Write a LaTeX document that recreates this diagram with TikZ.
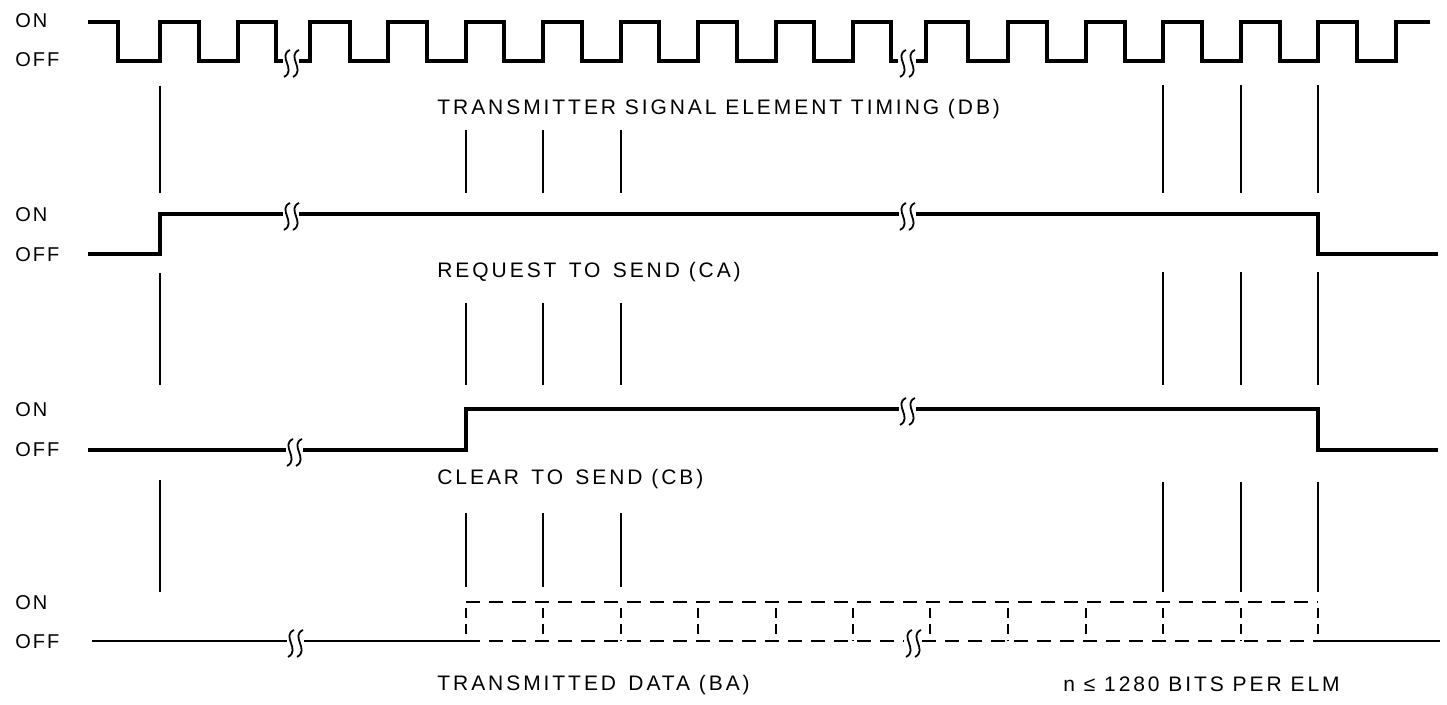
\documentclass[tikz,border=0pt]{standalone}
\usepackage{fontspec}
\setmainfont{Liberation Sans}[LetterSpace=14]
\usepackage{tikz}

% break mark on a signal line: two small vertical squiggles
\newcommand\wavebrk[2]{%
  \foreach \dx in {-4,5}
    \draw[line width=0.9pt] ({#1+\dx+3},{#2-11}) .. controls ({#1+\dx-10},{#2-5}) and ({#1+\dx+10},{#2+9}) .. ({#1+\dx-3},{#2+16});
}

\begin{document}
\begin{tikzpicture}[x=0.5pt,y=-0.5pt,
    sig/.style={line width=1.6pt},
    thinsig/.style={line width=0.9pt},
    tickln/.style={line width=0.8pt},
    datadash/.style={line width=0.9pt,dash pattern=on 7pt off 4.5pt},
    sepdash/.style={line width=0.9pt,dash pattern=on 5pt off 3pt,dash phase=5pt},
    lvl/.style={font=\fontsize{10}{11}\selectfont\addfontfeatures{LetterSpace=10},inner sep=0pt,anchor=base west},
    captxt/.style={font=\fontsize{10.5}{12}\selectfont,inner sep=0pt,anchor=base west}]
  \useasboundingbox (0,0) rectangle (1447,705);

  % ON / OFF levels
  \foreach \n/\yon/\yoff in {clk/28/67, rts/222/262, cts/417/457, dat/610/648} {
    \node[lvl] (\n-on)  at (15,\yon)  {ON};
    \node[lvl] (\n-off) at (15,\yoff) {OFF};
  }

  % transmitter signal element timing
  \draw[sig] (88,22) \foreach \f/\r in {118/160,199/238} { -| (\f,61) -| (\r,22) } -| (276,61) -- (283,61);
  \draw[sig] (299,61) \foreach \r/\f in {310/350,388/427,466/504,543/582,621/659,698/737,776/814,853/891} { -| (\r,22) -| (\f,61) } -- (898,61);
  \draw[sig] (916,61) \foreach \r/\f in {926/968,1008/1047,1086/1125,1163/1202,1241/1280,1318/1357} { -| (\r,22) -| (\f,61) } -| (1396,22) -- (1430,22);
  \wavebrk{291}{61}
  \wavebrk{907}{61}

  % request to send
  \draw[sig] (88,254) -| (160,214) -- (283,214);
  \draw[sig] (299,214) -- (899,214);
  \draw[sig] (916,214) -| (1318,254) -- (1438,254);
  \wavebrk{291}{214}
  \wavebrk{907}{214}

  % clear to send
  \draw[sig] (88,450) -- (286,450);
  \draw[sig] (303,450) -| (466,409) -- (899,409);
  \draw[sig] (916,409) -| (1318,450) -- (1438,450);
  \wavebrk{294}{450}
  \wavebrk{907}{409}

  % transmitted data
  \draw[thinsig] (92,641) -- (287,641);
  \draw[thinsig] (304,641) -- (466,641);
  \draw[datadash] (466,602) -- (1318,602);
  \draw[datadash] (466,641) -- (904,641);
  \draw[datadash] (922,641) -- (1318,641);
  \foreach \x in {466,543,621,698,776,853,930,1008,1086,1163,1241,1318}
    \draw[sepdash] (\x,602) -- (\x,641);
  \draw[thinsig] (1318,641) -- (1440,641);
  \wavebrk{295}{641}
  \wavebrk{913}{641}

  % timing marks
  \draw[tickln] (160,86) -- (160,193);
  \draw[tickln] (160,273) -- (160,385);
  \draw[tickln] (160,480) -- (160,592);
  \foreach \x in {466,543,621} {
    \draw[tickln] (\x,130) -- (\x,193);
    \draw[tickln] (\x,303) -- (\x,385);
    \draw[tickln] (\x,513) -- (\x,587);
  }
  \foreach \x in {1163,1241,1318} {
    \draw[tickln] (\x,85) -- (\x,193);
    \draw[tickln] (\x,272) -- (\x,385);
    \draw[tickln] (\x,482) -- (\x,592);
  }

  % captions
  \node[captxt] (db)  at (437,115) {TRANSMITTER SIGNAL ELEMENT TIMING (DB)};
  \node[captxt] (ca)  at (437,278) {REQUEST\, TO\, SEND (CA)};
  \node[captxt] (cb)  at (437,485) {CLEAR\, TO\, SEND (CB)};
  \node[captxt] (ba)  at (437,690) {TRANSMITTED\, DATA (BA)};
  \node[captxt] (elm) at (1063,691) {n ≤ 1280 BITS PER ELM};
\end{tikzpicture}
\end{document}
